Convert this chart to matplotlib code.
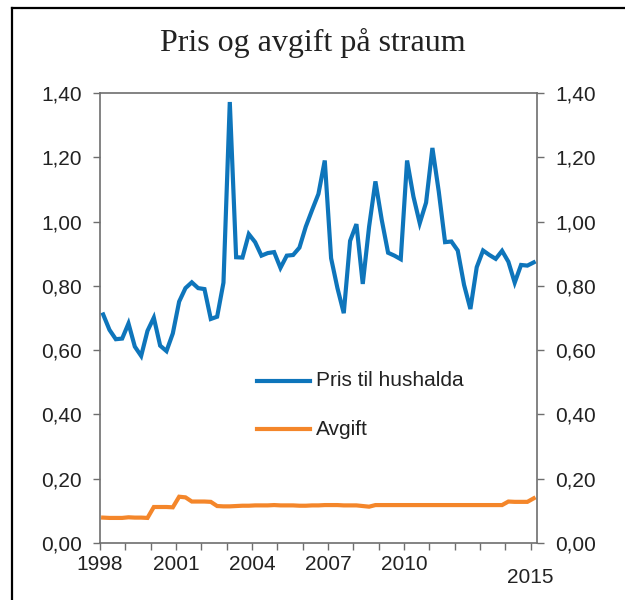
import matplotlib
matplotlib.use("Agg")
import matplotlib.pyplot as plt
from matplotlib.lines import Line2D
from matplotlib.ticker import FixedLocator, FuncFormatter

plt.rcParams["font.family"] = ["Liberation Sans", "DejaVu Sans"]

title = "Pris og avgift på straum"
series_names = ["Pris til hushalda", "Avgift"]
year_labels = ["1998", "2001", "2004", "2007", "2010", "2015"]
label_years = [1998, 2001, 2004, 2007, 2010, 2015]
first_year = 1998

pris = [0.711, 0.663, 0.634, 0.636, 0.683, 0.611, 0.582, 0.660, 0.701, 0.614,
        0.597, 0.652, 0.751, 0.793, 0.811, 0.793, 0.790, 0.697, 0.704, 0.810,
        1.372, 0.889, 0.888, 0.961, 0.936, 0.894, 0.902, 0.905, 0.856, 0.894,
        0.896, 0.919, 0.984, 1.036, 1.086, 1.190, 0.886, 0.793, 0.715, 0.940,
        0.992, 0.806, 0.984, 1.125, 1.005, 0.903, 0.894, 0.883, 1.190, 1.078,
        0.995, 1.059, 1.229, 1.094, 0.936, 0.938, 0.910, 0.803, 0.728, 0.858,
        0.910, 0.896, 0.884, 0.909, 0.875, 0.810, 0.865, 0.863, 0.873]

avgift = [0.079, 0.078, 0.078, 0.078, 0.080, 0.079, 0.079, 0.078, 0.112, 0.112,
          0.112, 0.111, 0.144, 0.142, 0.129, 0.129, 0.129, 0.128, 0.115, 0.114,
          0.114, 0.115, 0.116, 0.116, 0.117, 0.117, 0.117, 0.118, 0.117, 0.117,
          0.117, 0.116, 0.116, 0.117, 0.117, 0.118, 0.118, 0.118, 0.117, 0.117,
          0.117, 0.115, 0.113, 0.118, 0.118, 0.118, 0.118, 0.118, 0.118, 0.118,
          0.118, 0.118, 0.118, 0.118, 0.118, 0.118, 0.118, 0.118, 0.118, 0.118,
          0.118, 0.118, 0.118, 0.118, 0.129, 0.128, 0.128, 0.128, 0.139]

blue = "#0E75BB"
orange = "#F4862A"
spine_c = "#6E6E6E"
text_c = "#222222"
fs = 15

fig = plt.figure(figsize=(6.25, 6.0), dpi=100)
ax = fig.add_axes([0.16, 0.095, 0.699, 0.750])

x = list(range(len(pris)))
ax.plot(x, pris, color=blue, lw=3.0, solid_joinstyle="miter")
ax.plot(x, avgift, color=orange, lw=3.0, solid_joinstyle="miter")

ax.set_xlim(-0.5, len(pris) - 0.5)
ax.set_ylim(0, 1.4)

fmt = FuncFormatter(lambda v, p: f"{v:.2f}".replace(".", ","))
yt = [0, 0.2, 0.4, 0.6, 0.8, 1.0, 1.2, 1.4]
ax.yaxis.set_major_locator(FixedLocator(yt))
ax.yaxis.set_major_formatter(fmt)
ax.tick_params(axis="y", which="both", direction="out", length=5, width=1,
               color=spine_c, labelsize=fs, labelcolor=text_c, pad=8,
               left=True, right=True, labelleft=True, labelright=True)

nyears = 18
xt = [-0.5 + 4 * k for k in range(nyears)]
ax.set_xticks(xt)
ax.set_xticklabels([])
ax.tick_params(axis="x", direction="out", length=5, width=1, color=spine_c)

for lab, yr in zip(year_labels, label_years):
    pos = -0.5 + 4 * (yr - first_year)
    dy = -0.048 if yr != 2015 else -0.077
    ax.text(pos, dy, lab, transform=ax.get_xaxis_transform(), ha="center",
            va="center", fontsize=fs, color=text_c)

for s in ax.spines.values():
    s.set_color(spine_c)
    s.set_linewidth(1.2)

# legend drawn manually inside the axes
leg_y = [0.36, 0.253]
for name, col, yy in zip(series_names, [blue, orange], leg_y):
    ax.add_line(Line2D([0.359, 0.481], [yy, yy], color=col, lw=3.0,
                       transform=ax.transAxes))
    ax.text(0.494, yy, name, transform=ax.transAxes, ha="left", va="center",
            fontsize=fs, color=text_c)

fig.text(0.5, 0.928, title, ha="center", va="center", fontsize=23,
         family="Liberation Serif", color=text_c)

# border
fig.add_artist(Line2D([12 / 625, 12 / 625], [0, 1 - 8 / 600], color="black", lw=1.6,
                      transform=fig.transFigure))
fig.add_artist(Line2D([12 / 625, 1], [1 - 8 / 600, 1 - 8 / 600], color="black", lw=1.6,
                      transform=fig.transFigure))

fig.savefig("out.png", dpi=100)
